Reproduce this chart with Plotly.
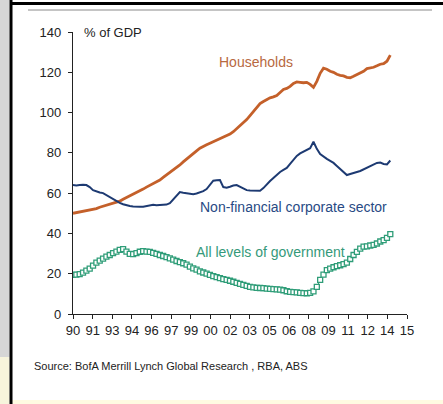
import numpy as np
import plotly.graph_objects as go

# Debt by sector, % of GDP, quarterly from 1990 Q1
households = [
    50.0, 50.3, 50.5, 51.0,
    51.3, 51.5, 52.0, 52.3,
    53.0, 53.5, 54.0, 54.3,
    54.7, 55.2, 56.0, 57.0,
    57.8, 58.5, 59.2, 60.0,
    61.0, 62.0, 63.0, 63.8,
    64.5, 65.5, 66.5, 67.8,
    69.0, 70.3, 71.5, 72.8,
    74.0, 75.5, 77.0, 78.3,
    79.5, 81.0, 82.3, 83.3,
    84.0, 84.8, 85.5, 86.2,
    86.8, 87.5, 88.3, 89.3,
    90.5, 92.0, 93.5, 95.0,
    96.5, 98.5, 100.5, 102.5,
    104.5, 105.5, 106.5, 107.3,
    107.8, 108.5, 110.0, 111.5,
    112.0, 113.0, 114.5, 115.2,
    115.0, 114.8, 115.0, 114.0,
    112.5, 115.5, 119.5, 122.0,
    121.5, 120.5, 120.0, 119.0,
    118.5, 118.2, 117.5, 117.3,
    118.0, 118.8, 119.8, 120.5,
    121.8, 122.0, 122.5, 123.2,
    124.0, 124.3, 125.5, 128.5,
]

non_financial_corporate = [
    64.0, 63.8, 64.0, 64.2,
    64.0, 63.0, 61.5, 60.8,
    60.3, 60.0, 59.0, 58.0,
    57.0, 55.8, 55.2, 54.5,
    54.0, 53.6, 53.4, 53.2,
    53.2, 53.3, 53.5, 54.0,
    54.2, 54.0, 54.2, 54.1,
    54.3, 55.0, 57.0, 59.0,
    60.5, 60.2, 60.0, 59.8,
    59.5, 59.8, 60.3, 61.0,
    62.0, 64.0, 66.2, 66.4,
    66.5, 63.0, 62.7, 63.2,
    63.8, 64.0, 63.2, 62.0,
    61.5, 61.3, 61.2, 61.2,
    61.2, 62.5, 64.5, 66.0,
    67.5, 69.0, 70.5, 71.5,
    72.5, 74.5, 76.5, 78.5,
    79.7, 80.5, 81.5, 82.3,
    85.5, 82.0, 79.4, 78.0,
    77.0, 76.0, 75.0, 73.5,
    72.0, 70.5, 69.0, 69.5,
    70.2, 70.5, 71.0, 71.8,
    72.5, 73.3, 74.0, 75.0,
    75.2, 74.5, 74.3, 76.2,
]

government = [
    19.4, 19.5, 19.8, 20.5,
    21.5, 22.5, 24.0, 25.5,
    26.5, 27.5, 28.5, 29.3,
    30.2, 31.0, 31.8, 32.2,
    31.0, 29.8, 29.7, 30.2,
    30.9, 31.2, 31.0, 30.8,
    30.3, 29.8, 29.3, 28.8,
    28.2, 27.6, 27.0, 26.3,
    25.8, 25.2, 24.5, 23.5,
    22.7, 22.0, 21.2, 20.6,
    20.0, 19.4, 18.8, 18.3,
    17.8, 17.3, 16.9, 16.5,
    16.0, 15.5, 15.0, 14.5,
    14.0, 13.5, 13.2, 13.0,
    12.9, 12.8, 12.6, 12.5,
    12.3, 12.2, 12.1, 11.8,
    11.3, 11.0, 10.9, 10.7,
    10.5, 10.4, 10.3, 10.5,
    11.2, 13.5, 16.9, 19.5,
    21.8, 22.5, 23.2, 23.8,
    24.2, 24.8, 25.5, 27.3,
    29.3, 30.8, 32.5, 33.4,
    33.6, 34.0, 34.3, 35.0,
    36.0, 36.7, 37.8, 39.7,
]

tick_labels = ["90", "91", "93", "94", "96", "97", "99", "00", "02",
               "03", "05", "06", "08", "09", "11", "12", "14", "15"]

series_names = ["Households", "Non-financial corporate sector",
                "All levels of government"]

start_year, end_year = 1990, 2015
quarters = start_year + 0.25 * np.arange(len(households))
tick_positions = np.linspace(start_year, end_year, len(tick_labels))

W, H = 443, 404
FONT = "Liberation Sans, Arial, sans-serif"
ORANGE = "#c4602a"
NAVY = "#1d3a72"
GREEN = "#2f9d78"


def px(x):
    return x / W


def py(y):
    return 1 - y / H


fig = go.Figure()

fig.add_trace(go.Scatter(
    x=quarters, y=households, mode="lines", name=series_names[0],
    line=dict(color=ORANGE, width=2.8), hoverinfo="skip"))
fig.add_trace(go.Scatter(
    x=quarters, y=non_financial_corporate, mode="lines", name=series_names[1],
    line=dict(color=NAVY, width=2), hoverinfo="skip"))
fig.add_trace(go.Scatter(
    x=quarters, y=government, mode="lines+markers", name=series_names[2],
    line=dict(color=GREEN, width=1),
    marker=dict(symbol="square", size=5, color="white",
                line=dict(width=1.3, color=GREEN)),
    hoverinfo="skip"))

axis_common = dict(
    showgrid=False, zeroline=False, showline=True, linecolor="#222",
    linewidth=1.3, ticks="outside", ticklen=4, tickwidth=1.2,
    tickcolor="#222", tickfont=dict(family=FONT, size=13, color="#222"),
    automargin=False,
)

fig.update_xaxes(
    range=[start_year, end_year], domain=[px(73), px(407)],
    tickvals=tick_positions, ticktext=tick_labels, **axis_common)
fig.update_yaxes(
    range=[0, 140], domain=[py(314), py(32)], tickvals=list(range(0, 141, 20)),
    ticklabelstandoff=4, **axis_common)

annotations = [
    dict(text="% of GDP", x=px(82), y=py(33), xanchor="left",
         font=dict(size=13, color="#222")),
    dict(text=series_names[0], x=px(256), y=py(62),
         font=dict(size=14, color="#b8693f")),
    dict(text=series_names[1], x=px(293), y=py(207),
         font=dict(size=14, color="#284a84")),
    dict(text=series_names[2], x=px(270), y=py(252),
         font=dict(size=14, color="#35997a")),
    dict(text="Source: BofA Merrill Lynch Global Research , RBA, ABS",
         x=px(32), y=py(366), xanchor="left",
         font=dict(size=11, color="#222")),
]
for a in annotations:
    a.setdefault("xanchor", "center")
    a["font"]["family"] = FONT
    fig.add_annotation(xref="paper", yref="paper", yanchor="middle",
                       showarrow=False, **a)

# Page frame: side strip, black rules and the pale lower band
shapes = [
    dict(type="rect", x0=0, x1=px(9.5), y0=py(357), y1=1,
         fillcolor="#d6d6d6", line_width=0),
    dict(type="rect", x0=0, x1=px(9.5), y0=0, y1=py(357),
         fillcolor="#f7f4dc", line_width=0),
    dict(type="rect", x0=px(12), x1=1, y0=0, y1=py(400),
         fillcolor="#fffbe2", line_width=0),
    dict(type="line", x0=px(11), x1=px(11), y0=0, y1=1,
         line=dict(color="#000", width=3)),
    dict(type="line", x0=px(11), x1=1, y0=py(3.5), y1=py(3.5),
         line=dict(color="#000", width=3)),
    dict(type="line", x0=px(28), x1=px(432), y0=py(10), y1=py(10),
         line=dict(color="#8a8a8a", width=1)),
]
for s in shapes:
    fig.add_shape(xref="paper", yref="paper", layer="below", **s)

fig.update_layout(
    width=W, height=H, margin=dict(l=0, r=0, t=0, b=0, autoexpand=False),
    paper_bgcolor="white", plot_bgcolor="white", showlegend=False,
    font=dict(family=FONT),
)

fig.write_html("out.html")
